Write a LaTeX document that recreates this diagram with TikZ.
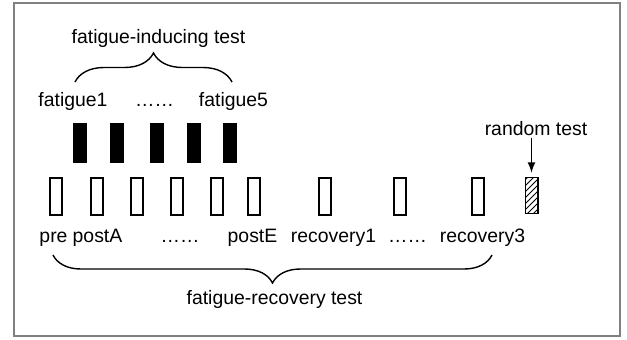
\documentclass[tikz,border=0pt]{standalone}
\usepackage{fontspec}
\setmainfont{Liberation Sans}
\usetikzlibrary{decorations.pathreplacing,patterns}

\begin{document}
\begin{tikzpicture}[x=0.5pt,y=-0.5pt,font=\fontsize{9.7}{12}\selectfont,
  fbar/.style={fill=black,minimum width=7pt,minimum height=20pt,inner sep=0pt},
  obar/.style={draw,line width=1pt,minimum width=6pt,minimum height=18.5pt,inner sep=0pt},
  hbar/.style={draw,line width=0.8pt,pattern=north east lines,minimum width=6.2pt,minimum height=18pt,inner sep=0pt},
  lbl/.style={anchor=base,inner sep=1pt},
  brc/.style={decorate,line width=0.7pt}]
\useasboundingbox (0,0) rectangle (627,339);
\draw[gray,line width=0.6pt] (14,3) rectangle (620,336); % --- frame

% --- fatigue-inducing bars
\node[fbar] (f1) at (79.5,143) {};
\node[fbar] (f2) at (117,143) {};
\node[fbar] (f3) at (156.5,143) {};
\node[fbar] (f4) at (193.5,143) {};
\node[fbar] (f5) at (230,143) {};

% --- fatigue-recovery bars
\node[obar] (pre) at (56,196.5) {};
\node[obar] (pA) at (96.5,196.5) {};
\node[obar] (pB) at (137,196.5) {};
\node[obar] (pC) at (177,196.5) {};
\node[obar] (pD) at (216.5,196.5) {};
\node[obar] (pE) at (253.5,196.5) {};
\node[obar] (r1) at (325,196.5) {};
\node[obar] (r2) at (400,196.5) {};
\node[obar] (r3) at (478,196.5) {};
\node[hbar] (rt) at (531.5,195.5) {}; % --- random test bar

% --- labels
\node[lbl] (fit) at (158.5,43) {fatigue-inducing test};
\node[lbl] (lf1) at (73,106) {fatigue1};
\node[lbl] (ldf) at (154.5,106) {……};
\node[lbl] (lf5) at (233.5,106) {fatigue5};
\node[lbl] (rnd) at (536,135) {random test};
\node[lbl] (lpre) at (53.5,242) {pre};
\node[lbl] (lpA) at (97.5,242) {postA};
\node[lbl] (ldp) at (180,242) {……};
\node[lbl] (lpE) at (252.5,242) {postE};
\node[lbl] (lr1) at (333.5,242) {recovery1};
\node[lbl] (ldr) at (407.5,242) {……};
\node[lbl] (lr3) at (482.5,242) {recovery3};
\node[lbl] (frt) at (274.5,304) {fatigue-recovery test};

% --- braces
\coordinate (ua) at (75,82);
\coordinate (ub) at (232,82);
\draw[brc,decoration={brace,amplitude=14.5pt}] (ua) -- (ub);
\coordinate (la) at (53,255);
\coordinate (lb) at (492,255);
\draw[brc,decoration={brace,mirror,amplitude=14pt}] (la) -- (lb);

\draw[-latex,line width=0.8pt] (rt.north |- rnd.south) -- ([yshift=2pt]rt.north); % --- arrow to random test
\end{tikzpicture}
\end{document}
